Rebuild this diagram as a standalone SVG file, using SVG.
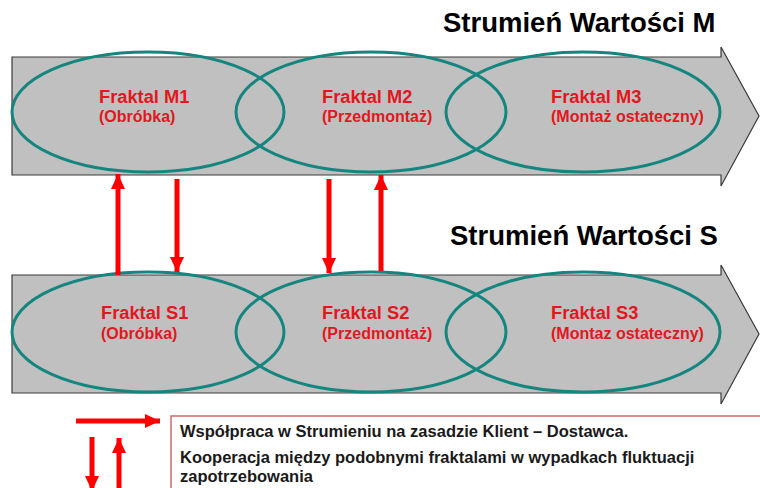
<svg xmlns="http://www.w3.org/2000/svg" width="760" height="488" viewBox="0 0 760 488">
<defs>
<marker id="ah" viewBox="0 0 15 14" refX="15" refY="7" markerWidth="15" markerHeight="14" markerUnits="userSpaceOnUse" orient="auto">
<path d="M0,0 L15,7 L0,14 z" fill="#ff0000"/>
</marker>
</defs>
<style>
.band{fill:#c0c0c0;stroke:#3a3a3a;stroke-width:1.2}
.ell{fill:none;stroke:#14857f;stroke-width:3}
.title{font-family:"Liberation Sans",Arial,sans-serif;font-weight:bold;font-size:27.5px;fill:#000}
.ft{font-family:"Liberation Sans",Arial,sans-serif;font-weight:bold;font-size:18.3px;fill:#e3171f}
.fs{font-family:"Liberation Sans",Arial,sans-serif;font-weight:bold;font-size:16px;fill:#e3171f}
.lg{font-family:"Liberation Sans",Arial,sans-serif;font-weight:bold;font-size:16.5px;fill:#1a1a1a}
.ra{fill:none;stroke:#ff0000;stroke-width:5;marker-end:url(#ah)}
</style>
<rect width="760" height="488" fill="#fff"/>
<g id="streamM">
<polygon class="band" points="12,57 721,57 721,47 759,116 721,186 721,175 12,175"/>
<text class="title" x="443" y="32">Strumień Wartości M</text>
</g>
<g id="streamS">
<polygon class="band" points="12,275 721,275 721,265 759,334 721,404 721,393 12,393"/>
<text class="title" x="450" y="245">Strumień Wartości S</text>
</g>
<g id="M1"><ellipse class="ell" cx="148" cy="112" rx="136" ry="60"/><text class="ft" x="99" y="103">Fraktal M1</text><text class="fs" x="99" y="122">(Obróbka)</text></g>
<g id="M2"><ellipse class="ell" cx="371" cy="112" rx="135" ry="60"/><text class="ft" x="322" y="103">Fraktal M2</text><text class="fs" x="322" y="122">(Przedmontaż)</text></g>
<g id="M3"><ellipse class="ell" cx="583" cy="112" rx="137" ry="60"/><text class="ft" x="551" y="103">Fraktal M3</text><text class="fs" x="551" y="122">(Montaż ostateczny)</text></g>
<g id="S1"><ellipse class="ell" cx="148" cy="332" rx="136" ry="60"/><text class="ft" x="101" y="319">Fraktal S1</text><text class="fs" x="101" y="339">(Obróbka)</text></g>
<g id="S2"><ellipse class="ell" cx="371" cy="332" rx="135" ry="60"/><text class="ft" x="322" y="319">Fraktal S2</text><text class="fs" x="322" y="339">(Przedmontaż)</text></g>
<g id="S3"><ellipse class="ell" cx="583" cy="332" rx="137" ry="60"/><text class="ft" x="551" y="319">Fraktal S3</text><text class="fs" x="551" y="339">(Montaz ostateczny)</text></g>
<g id="connectors">
<path class="ra" d="M118,275 L118,174"/>
<path class="ra" d="M177,179 L177,272"/>
<path class="ra" d="M329,179 L329,273"/>
<path class="ra" d="M381,271 L381,175"/>
</g>
<g id="legend">
<path class="ra" d="M76,421 L160,421"/>
<path class="ra" d="M92,437 L92,491"/>
<path class="ra" d="M119,492 L119,438"/>
<rect x="171" y="416" width="600" height="100" fill="#fff" stroke="#cd6b6b" stroke-width="1.5"/>
<text class="lg" x="180" y="437">Współpraca w Strumieniu na zasadzie Klient – Dostawca.</text>
<text class="lg" x="180" y="463">Kooperacja między podobnymi fraktalami w wypadkach fluktuacji</text>
<text class="lg" x="180" y="482">zapotrzebowania</text>
</g>
</svg>
